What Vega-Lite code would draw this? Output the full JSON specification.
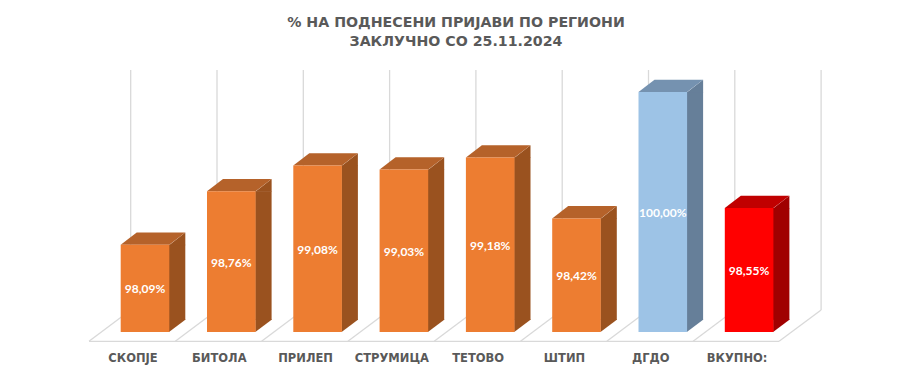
{
"$schema":"https://vega.github.io/schema/vega-lite/v6.json",
"width":912,"height":376,"padding":0,"autosize":"none",
"background":"white",
"title":{"text":["% НА ПОДНЕСЕНИ ПРИЈАВИ ПО РЕГИОНИ","ЗАКЛУЧНО СО 25.11.2024"],"anchor":"middle","frame":"group","font":"DejaVu Sans","fontWeight":"bold","fontSize":14.2,"lineHeight":19,"color":"#595959","offset":-49,"dx":0},
"data":{"values":[
{"region":"СКОПЈЕ","pct":98.09,"label":"98,09%"},
{"region":"БИТОЛА","pct":98.76,"label":"98,76%"},
{"region":"ПРИЛЕП","pct":99.08,"label":"99,08%"},
{"region":"СТРУМИЦА","pct":99.03,"label":"99,03%"},
{"region":"ТЕТОВО","pct":99.18,"label":"99,18%"},
{"region":"ШТИП","pct":98.42,"label":"98,42%"},
{"region":"ДГДО","pct":100,"label":"100,00%"},
{"region":"ВКУПНО:","pct":98.55,"label":"98,55%"}
]},
"encoding":{
"x":{"field":"region","type":"nominal","sort":null,"title":null,"scale":{"type":"band","range":[101.85,792.25],"padding":0},
"axis":{"orient":"bottom","offset":-18,"domain":false,"ticks":false,"grid":false,"labelAngle":0,"labelOffset":-12,"labelPadding":0,"labelFont":"DejaVu Sans","labelFontWeight":"bold","labelFontSize":11.5,"labelColor":"#595959","labelBaseline":"middle","labelOverlap":false}}
},
"layer":[
{"mark":{"type":"rule","color":"#D9D9D9","strokeWidth":1.3,"xOffset":-14.3,"x2Offset":-14.3,"yOffset":-22,"y2Offset":-22},
 "encoding":{"y":{"datum":97,"type":"quantitative","scale":{"domain":[97,100],"range":[332,92]},"axis":null},"y2":{"datum":100}}},
{"transform":[{"filter":"datum.region==='ВКУПНО:'"}],
 "mark":{"type":"rule","color":"#D9D9D9","strokeWidth":1.3,"xOffset":72,"x2Offset":72,"yOffset":-22,"y2Offset":-22},
 "encoding":{"y":{"datum":97,"type":"quantitative","scale":{"domain":[97,100],"range":[332,92]},"axis":null},"y2":{"datum":100}}},
{"mark":{"type":"point","shape":"M-14.3 -22L-56 9.3","size":4,"filled":false,"stroke":"#D9D9D9","strokeWidth":1.3,"opacity":1},
 "encoding":{"y":{"datum":97,"type":"quantitative","scale":{"domain":[97,100],"range":[332,92]},"axis":null}}},
{"transform":[{"filter":"datum.region==='ВКУПНО:'"}],
 "mark":{"type":"point","shape":"M72 -22L30 9.3","size":4,"filled":false,"stroke":"#D9D9D9","strokeWidth":1.3,"opacity":1},
 "encoding":{"y":{"datum":97,"type":"quantitative","scale":{"domain":[97,100],"range":[332,92]},"axis":null}}},
{"transform":[{"filter":"datum.region==='ВКУПНО:'"}],
 "mark":{"type":"point","shape":"M-660.1 9.3L30 9.3","size":4,"filled":false,"stroke":"#D9D9D9","strokeWidth":1.3,"opacity":1},
 "encoding":{"y":{"datum":97,"type":"quantitative","scale":{"domain":[97,100],"range":[332,92]},"axis":null}}},
{"mark":{"type":"bar","size":16.4,"xOffset":32.1,"y2Offset":-12.3},
 "encoding":{"y":{"field":"pct","type":"quantitative","scale":{"domain":[97,100],"range":[332,92]},"axis":null},"y2":{"datum":97},
 "color":{"field":"region","type":"nominal","sort":null,"legend":null,"scale":{"domain":["СКОПЈЕ","БИТОЛА","ПРИЛЕП","СТРУМИЦА","ТЕТОВО","ШТИП","ДГДО","ВКУПНО:"],"range":["#9A521F","#9A521F","#9A521F","#9A521F","#9A521F","#9A521F","#667F99","#A00000"]}}}},
{"mark":{"type":"point","shape":"M24 0.5L40.3 -12.3L40.3 0.5Z","size":4,"filled":true,"opacity":1},
 "encoding":{"y":{"field":"pct","type":"quantitative","scale":{"domain":[97,100],"range":[332,92]},"axis":null},
 "color":{"field":"region","type":"nominal","sort":null,"legend":null,"scale":{"domain":["СКОПЈЕ","БИТОЛА","ПРИЛЕП","СТРУМИЦА","ТЕТОВО","ШТИП","ДГДО","ВКУПНО:"],"range":["#9A521F","#9A521F","#9A521F","#9A521F","#9A521F","#9A521F","#667F99","#A00000"]}}}},
{"mark":{"type":"point","shape":"M24 -13L40.3 -13L40.3 -12.3L24 0Z","size":4,"filled":true,"opacity":1},
 "encoding":{"y":{"datum":97,"type":"quantitative","scale":{"domain":[97,100],"range":[332,92]},"axis":null},
 "color":{"field":"region","type":"nominal","sort":null,"legend":null,"scale":{"domain":["СКОПЈЕ","БИТОЛА","ПРИЛЕП","СТРУМИЦА","ТЕТОВО","ШТИП","ДГДО","ВКУПНО:"],"range":["#9A521F","#9A521F","#9A521F","#9A521F","#9A521F","#9A521F","#667F99","#A00000"]}}}},
{"mark":{"type":"point","shape":"M-24.3 0L24.3 0L40.3 -12.3L-8.3 -12.3Z","size":4,"filled":true,"opacity":1},
 "encoding":{"y":{"field":"pct","type":"quantitative","scale":{"domain":[97,100],"range":[332,92]},"axis":null},
 "color":{"field":"region","type":"nominal","sort":null,"legend":null,"scale":{"domain":["СКОПЈЕ","БИТОЛА","ПРИЛЕП","СТРУМИЦА","ТЕТОВО","ШТИП","ДГДО","ВКУПНО:"],"range":["#B5622A","#B5622A","#B5622A","#B5622A","#B5622A","#B5622A","#7592B0","#C00000"]}}}},
{"mark":{"type":"bar","size":48.6},
 "encoding":{"y":{"field":"pct","type":"quantitative","scale":{"domain":[97,100],"range":[332,92]},"axis":null},"y2":{"datum":97},
 "color":{"field":"region","type":"nominal","sort":null,"legend":null,"scale":{"domain":["СКОПЈЕ","БИТОЛА","ПРИЛЕП","СТРУМИЦА","ТЕТОВО","ШТИП","ДГДО","ВКУПНО:"],"range":["#ED7D31","#ED7D31","#ED7D31","#ED7D31","#ED7D31","#ED7D31","#9DC3E6","#FF0000"]}}}},
{"mark":{"type":"text","font":"Lato","fontWeight":"bold","fontSize":12,"color":"#FFFFFF","baseline":"middle","align":"center"},
 "encoding":{"y":{"field":"pct","type":"quantitative","scale":{"domain":[97,100],"range":[333,213]},"axis":null},"text":{"field":"label"}}}
],
"resolve":{"scale":{"y":"independent","color":"independent"}},
"config":{"view":{"stroke":null}}
}
